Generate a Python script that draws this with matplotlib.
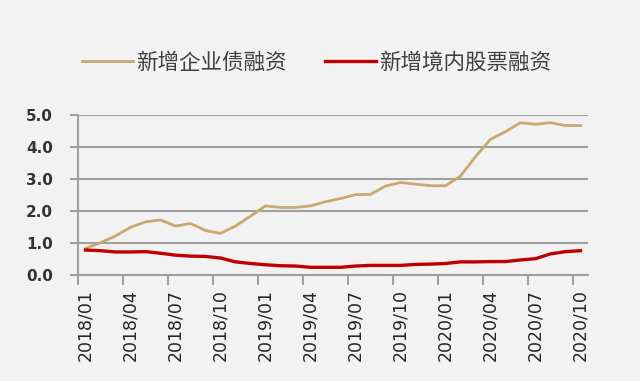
import matplotlib
matplotlib.use("Agg")
import matplotlib.pyplot as plt
import numpy as np

plt.rcParams['font.family'] = ['Noto Sans CJK SC', 'DejaVu Sans']

months = [f"{y}/{m:02d}" for y in (2018, 2019, 2020) for m in range(1, 13)][:34]
bond = [0.83, 1.01, 1.22, 1.49, 1.66, 1.72, 1.53, 1.61, 1.39, 1.30, 1.53, 1.84,
        2.16, 2.11, 2.11, 2.16, 2.29, 2.39, 2.51, 2.52, 2.78, 2.89, 2.84, 2.79,
        2.79, 3.09, 3.70, 4.24, 4.48, 4.76, 4.71, 4.76, 4.67, 4.67]
equity = [0.78, 0.76, 0.72, 0.72, 0.73, 0.68, 0.62, 0.59, 0.58, 0.53, 0.41, 0.36,
          0.32, 0.29, 0.28, 0.24, 0.24, 0.24, 0.28, 0.30, 0.30, 0.30, 0.33, 0.34,
          0.36, 0.41, 0.41, 0.42, 0.42, 0.47, 0.51, 0.66, 0.73, 0.76]
series_names = ["新增企业债融资", "新增境内股票融资"]
yticks = [0.0, 1.0, 2.0, 3.0, 4.0, 5.0]

bg = "#f2f2f2"
fig = plt.figure(figsize=(6.4, 3.81), dpi=100, facecolor=bg)
ax = fig.add_axes([78/640, 1-275/381, (588-78)/640, (275-115)/381], facecolor=bg)

x = np.arange(len(months))
ax.plot(x, bond, color="#C8A96E", lw=2.0, label=series_names[0], solid_joinstyle="round")
ax.plot(x, equity, color="#C00000", lw=2.4, label=series_names[1], solid_joinstyle="round")

ax.set_xlim(-0.5, len(months) - 0.5)
ax.set_ylim(0, 5)
ax.set_yticks(yticks)
ax.set_yticklabels([f"{v:.1f}" for v in yticks], fontsize=11, color="#333333",
                   family="DejaVu Sans", fontweight="bold")
ax.yaxis.grid(True, color="#a0a0a0", lw=1.5)
ax.set_axisbelow(True)

lab_idx = list(range(0, len(months), 3))
ax.set_xticks(lab_idx)
ax.set_xticklabels([months[i] for i in lab_idx], rotation=90, fontsize=12.5,
                   color="#262626", family="DejaVu Sans")
ax.tick_params(axis="x", which="major", length=0, pad=10)
ax.set_xticks([i - 0.5 for i in lab_idx], minor=True)
ax.tick_params(axis="x", which="minor", length=7, width=1.5, color="#a0a0a0", direction="out")
ax.tick_params(axis="y", length=6, width=1.5, color="#a0a0a0", pad=12)

for s in ["top", "right"]:
    ax.spines[s].set_visible(False)
for s in ["left", "bottom"]:
    ax.spines[s].set_color("#a0a0a0")
    ax.spines[s].set_linewidth(1.5)

leg = fig.legend(loc="center", bbox_to_anchor=(0.495, 1-63/381), ncol=2, frameon=False,
                 fontsize=15.5, handlelength=2.35, columnspacing=1.8, handletextpad=0.15)
for t in leg.get_texts():
    t.set_color("#404040")

fig.savefig("out.png", dpi=100, facecolor=bg)
